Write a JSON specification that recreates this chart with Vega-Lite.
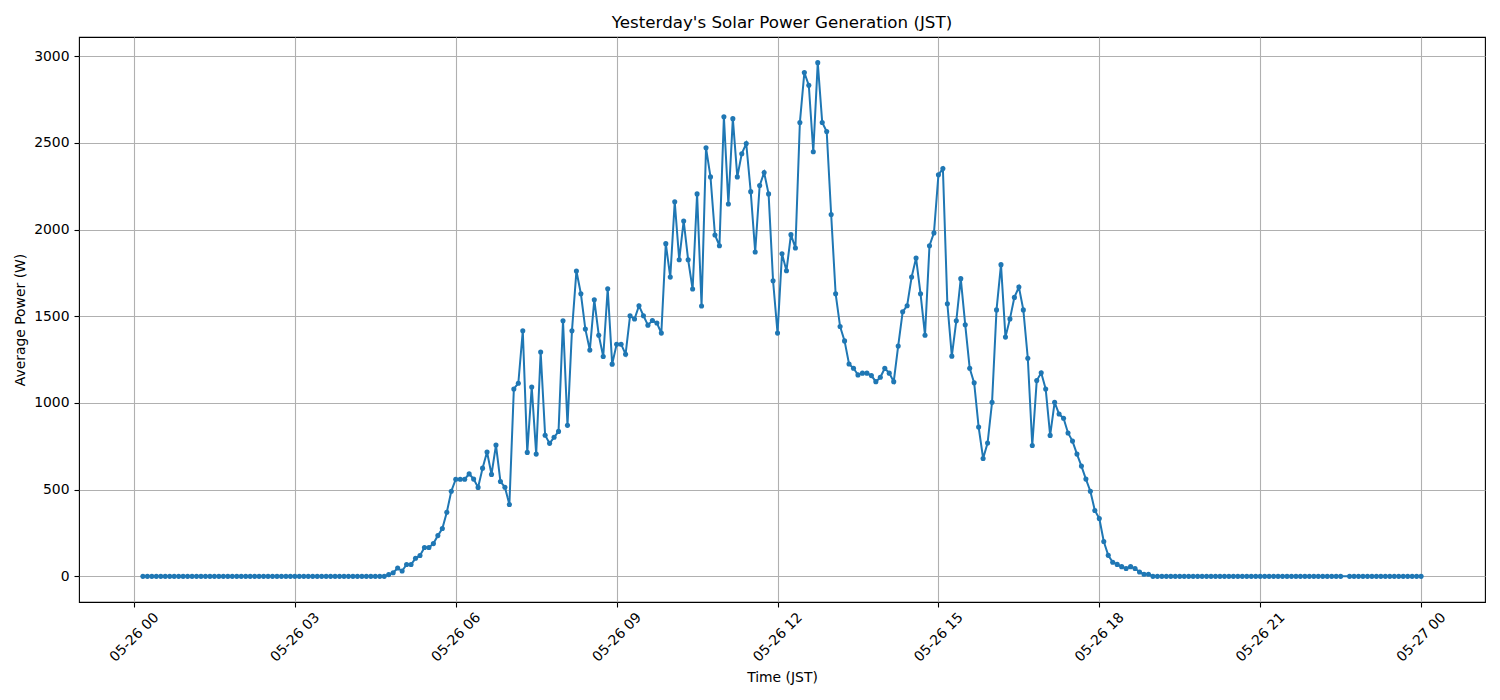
{
  "$schema": "https://vega.github.io/schema/vega-lite/v6.json",
  "width": 1406,
  "height": 565,
  "autosize": {"type": "none"},
  "padding": {"left": 79, "top": 37, "right": 15, "bottom": 98},
  "background": "white",
  "title": {
    "text": "Yesterday's Solar Power Generation (JST)",
    "font": "DejaVu Sans",
    "fontSize": 16.7,
    "fontWeight": "normal",
    "color": "black",
    "anchor": "middle",
    "offset": 5
  },
  "config": {
    "view": {"stroke": "black", "strokeWidth": 1.1},
    "axis": {
      "domain": false,
      "grid": true,
      "gridColor": "#b0b0b0",
      "gridWidth": 1.1,
      "gridOpacity": 1,
      "tickColor": "black",
      "tickWidth": 1.1,
      "tickSize": 5,
      "labelFont": "DejaVu Sans",
      "labelFontSize": 13.9,
      "labelColor": "black",
      "titleFont": "DejaVu Sans",
      "titleFontSize": 13.9,
      "titleFontWeight": "normal",
      "titleColor": "black"
    }
  },
  "data": {
    "values": [
      {"t": "2025-05-26T00:10:00Z", "w": 0}, {"t": "2025-05-26T00:15:00Z", "w": 0}, {"t": "2025-05-26T00:20:00Z", "w": 0}, {"t": "2025-05-26T00:25:00Z", "w": 0},
      {"t": "2025-05-26T00:30:00Z", "w": 0}, {"t": "2025-05-26T00:35:00Z", "w": 0}, {"t": "2025-05-26T00:40:00Z", "w": 0}, {"t": "2025-05-26T00:45:00Z", "w": 0},
      {"t": "2025-05-26T00:50:00Z", "w": 0}, {"t": "2025-05-26T00:55:00Z", "w": 0},
      {"t": "2025-05-26T01:00:00Z", "w": 0}, {"t": "2025-05-26T01:05:00Z", "w": 0}, {"t": "2025-05-26T01:10:00Z", "w": 0}, {"t": "2025-05-26T01:15:00Z", "w": 0},
      {"t": "2025-05-26T01:20:00Z", "w": 0}, {"t": "2025-05-26T01:25:00Z", "w": 0}, {"t": "2025-05-26T01:30:00Z", "w": 0}, {"t": "2025-05-26T01:35:00Z", "w": 0},
      {"t": "2025-05-26T01:40:00Z", "w": 0}, {"t": "2025-05-26T01:45:00Z", "w": 0}, {"t": "2025-05-26T01:50:00Z", "w": 0}, {"t": "2025-05-26T01:55:00Z", "w": 0},
      {"t": "2025-05-26T02:00:00Z", "w": 0}, {"t": "2025-05-26T02:05:00Z", "w": 0}, {"t": "2025-05-26T02:10:00Z", "w": 0}, {"t": "2025-05-26T02:15:00Z", "w": 0},
      {"t": "2025-05-26T02:20:00Z", "w": 0}, {"t": "2025-05-26T02:25:00Z", "w": 0}, {"t": "2025-05-26T02:30:00Z", "w": 0}, {"t": "2025-05-26T02:35:00Z", "w": 0},
      {"t": "2025-05-26T02:40:00Z", "w": 0}, {"t": "2025-05-26T02:45:00Z", "w": 0}, {"t": "2025-05-26T02:50:00Z", "w": 0}, {"t": "2025-05-26T02:55:00Z", "w": 0},
      {"t": "2025-05-26T03:00:00Z", "w": 0}, {"t": "2025-05-26T03:05:00Z", "w": 0}, {"t": "2025-05-26T03:10:00Z", "w": 0}, {"t": "2025-05-26T03:15:00Z", "w": 0},
      {"t": "2025-05-26T03:20:00Z", "w": 0}, {"t": "2025-05-26T03:25:00Z", "w": 0}, {"t": "2025-05-26T03:30:00Z", "w": 0}, {"t": "2025-05-26T03:35:00Z", "w": 0},
      {"t": "2025-05-26T03:40:00Z", "w": 0}, {"t": "2025-05-26T03:45:00Z", "w": 0}, {"t": "2025-05-26T03:50:00Z", "w": 0}, {"t": "2025-05-26T03:55:00Z", "w": 0},
      {"t": "2025-05-26T04:00:00Z", "w": 0}, {"t": "2025-05-26T04:05:00Z", "w": 0}, {"t": "2025-05-26T04:10:00Z", "w": 0}, {"t": "2025-05-26T04:15:00Z", "w": 0},
      {"t": "2025-05-26T04:20:00Z", "w": 0}, {"t": "2025-05-26T04:25:00Z", "w": 0}, {"t": "2025-05-26T04:30:00Z", "w": 0}, {"t": "2025-05-26T04:35:00Z", "w": 0},
      {"t": "2025-05-26T04:40:00Z", "w": 0}, {"t": "2025-05-26T04:45:00Z", "w": 10}, {"t": "2025-05-26T04:50:00Z", "w": 21}, {"t": "2025-05-26T04:55:00Z", "w": 48},
      {"t": "2025-05-26T05:00:00Z", "w": 31}, {"t": "2025-05-26T05:05:00Z", "w": 68}, {"t": "2025-05-26T05:10:00Z", "w": 68}, {"t": "2025-05-26T05:15:00Z", "w": 104},
      {"t": "2025-05-26T05:20:00Z", "w": 120}, {"t": "2025-05-26T05:25:00Z", "w": 166}, {"t": "2025-05-26T05:30:00Z", "w": 166}, {"t": "2025-05-26T05:35:00Z", "w": 189},
      {"t": "2025-05-26T05:40:00Z", "w": 235}, {"t": "2025-05-26T05:45:00Z", "w": 276}, {"t": "2025-05-26T05:50:00Z", "w": 370}, {"t": "2025-05-26T05:55:00Z", "w": 491},
      {"t": "2025-05-26T06:00:00Z", "w": 560}, {"t": "2025-05-26T06:05:00Z", "w": 560}, {"t": "2025-05-26T06:10:00Z", "w": 560}, {"t": "2025-05-26T06:15:00Z", "w": 591},
      {"t": "2025-05-26T06:20:00Z", "w": 561}, {"t": "2025-05-26T06:25:00Z", "w": 513}, {"t": "2025-05-26T06:30:00Z", "w": 624}, {"t": "2025-05-26T06:35:00Z", "w": 717},
      {"t": "2025-05-26T06:40:00Z", "w": 588}, {"t": "2025-05-26T06:45:00Z", "w": 757}, {"t": "2025-05-26T06:50:00Z", "w": 547}, {"t": "2025-05-26T06:55:00Z", "w": 514},
      {"t": "2025-05-26T07:00:00Z", "w": 414}, {"t": "2025-05-26T07:05:00Z", "w": 1081}, {"t": "2025-05-26T07:10:00Z", "w": 1114}, {"t": "2025-05-26T07:15:00Z", "w": 1416},
      {"t": "2025-05-26T07:20:00Z", "w": 715}, {"t": "2025-05-26T07:25:00Z", "w": 1092}, {"t": "2025-05-26T07:30:00Z", "w": 705}, {"t": "2025-05-26T07:35:00Z", "w": 1294},
      {"t": "2025-05-26T07:40:00Z", "w": 814}, {"t": "2025-05-26T07:45:00Z", "w": 767}, {"t": "2025-05-26T07:50:00Z", "w": 802}, {"t": "2025-05-26T07:55:00Z", "w": 836},
      {"t": "2025-05-26T08:00:00Z", "w": 1474}, {"t": "2025-05-26T08:05:00Z", "w": 871}, {"t": "2025-05-26T08:10:00Z", "w": 1416}, {"t": "2025-05-26T08:15:00Z", "w": 1761},
      {"t": "2025-05-26T08:20:00Z", "w": 1630}, {"t": "2025-05-26T08:25:00Z", "w": 1426}, {"t": "2025-05-26T08:30:00Z", "w": 1305}, {"t": "2025-05-26T08:35:00Z", "w": 1595},
      {"t": "2025-05-26T08:40:00Z", "w": 1391}, {"t": "2025-05-26T08:45:00Z", "w": 1268}, {"t": "2025-05-26T08:50:00Z", "w": 1659}, {"t": "2025-05-26T08:55:00Z", "w": 1224},
      {"t": "2025-05-26T09:00:00Z", "w": 1339}, {"t": "2025-05-26T09:05:00Z", "w": 1339}, {"t": "2025-05-26T09:10:00Z", "w": 1281}, {"t": "2025-05-26T09:15:00Z", "w": 1503},
      {"t": "2025-05-26T09:20:00Z", "w": 1484}, {"t": "2025-05-26T09:25:00Z", "w": 1561}, {"t": "2025-05-26T09:30:00Z", "w": 1503}, {"t": "2025-05-26T09:35:00Z", "w": 1449},
      {"t": "2025-05-26T09:40:00Z", "w": 1476}, {"t": "2025-05-26T09:45:00Z", "w": 1461}, {"t": "2025-05-26T09:50:00Z", "w": 1403}, {"t": "2025-05-26T09:55:00Z", "w": 1919},
      {"t": "2025-05-26T10:00:00Z", "w": 1726}, {"t": "2025-05-26T10:05:00Z", "w": 2160}, {"t": "2025-05-26T10:10:00Z", "w": 1826}, {"t": "2025-05-26T10:15:00Z", "w": 2050},
      {"t": "2025-05-26T10:20:00Z", "w": 1826}, {"t": "2025-05-26T10:25:00Z", "w": 1657}, {"t": "2025-05-26T10:30:00Z", "w": 2206}, {"t": "2025-05-26T10:35:00Z", "w": 1559},
      {"t": "2025-05-26T10:40:00Z", "w": 2472}, {"t": "2025-05-26T10:45:00Z", "w": 2304}, {"t": "2025-05-26T10:50:00Z", "w": 1969}, {"t": "2025-05-26T10:55:00Z", "w": 1907},
      {"t": "2025-05-26T11:00:00Z", "w": 2651}, {"t": "2025-05-26T11:05:00Z", "w": 2148}, {"t": "2025-05-26T11:10:00Z", "w": 2640}, {"t": "2025-05-26T11:15:00Z", "w": 2304},
      {"t": "2025-05-26T11:20:00Z", "w": 2438}, {"t": "2025-05-26T11:25:00Z", "w": 2496}, {"t": "2025-05-26T11:30:00Z", "w": 2219}, {"t": "2025-05-26T11:35:00Z", "w": 1871},
      {"t": "2025-05-26T11:40:00Z", "w": 2254}, {"t": "2025-05-26T11:45:00Z", "w": 2329}, {"t": "2025-05-26T11:50:00Z", "w": 2206}, {"t": "2025-05-26T11:55:00Z", "w": 1705},
      {"t": "2025-05-26T12:00:00Z", "w": 1403}, {"t": "2025-05-26T12:05:00Z", "w": 1861}, {"t": "2025-05-26T12:10:00Z", "w": 1763}, {"t": "2025-05-26T12:15:00Z", "w": 1971},
      {"t": "2025-05-26T12:20:00Z", "w": 1894}, {"t": "2025-05-26T12:25:00Z", "w": 2618}, {"t": "2025-05-26T12:30:00Z", "w": 2906}, {"t": "2025-05-26T12:35:00Z", "w": 2832},
      {"t": "2025-05-26T12:40:00Z", "w": 2449}, {"t": "2025-05-26T12:45:00Z", "w": 2963}, {"t": "2025-05-26T12:50:00Z", "w": 2618}, {"t": "2025-05-26T12:55:00Z", "w": 2566},
      {"t": "2025-05-26T13:00:00Z", "w": 2087}, {"t": "2025-05-26T13:05:00Z", "w": 1630}, {"t": "2025-05-26T13:10:00Z", "w": 1441}, {"t": "2025-05-26T13:15:00Z", "w": 1358},
      {"t": "2025-05-26T13:20:00Z", "w": 1225}, {"t": "2025-05-26T13:25:00Z", "w": 1200}, {"t": "2025-05-26T13:30:00Z", "w": 1162}, {"t": "2025-05-26T13:35:00Z", "w": 1172},
      {"t": "2025-05-26T13:40:00Z", "w": 1172}, {"t": "2025-05-26T13:45:00Z", "w": 1158}, {"t": "2025-05-26T13:50:00Z", "w": 1123}, {"t": "2025-05-26T13:55:00Z", "w": 1148},
      {"t": "2025-05-26T14:00:00Z", "w": 1200}, {"t": "2025-05-26T14:05:00Z", "w": 1172}, {"t": "2025-05-26T14:10:00Z", "w": 1123}, {"t": "2025-05-26T14:15:00Z", "w": 1329},
      {"t": "2025-05-26T14:20:00Z", "w": 1526}, {"t": "2025-05-26T14:25:00Z", "w": 1561}, {"t": "2025-05-26T14:30:00Z", "w": 1726}, {"t": "2025-05-26T14:35:00Z", "w": 1836},
      {"t": "2025-05-26T14:40:00Z", "w": 1630}, {"t": "2025-05-26T14:45:00Z", "w": 1391}, {"t": "2025-05-26T14:50:00Z", "w": 1907}, {"t": "2025-05-26T14:55:00Z", "w": 1981},
      {"t": "2025-05-26T15:00:00Z", "w": 2316}, {"t": "2025-05-26T15:05:00Z", "w": 2352}, {"t": "2025-05-26T15:10:00Z", "w": 1572}, {"t": "2025-05-26T15:15:00Z", "w": 1270},
      {"t": "2025-05-26T15:20:00Z", "w": 1474}, {"t": "2025-05-26T15:25:00Z", "w": 1717}, {"t": "2025-05-26T15:30:00Z", "w": 1451}, {"t": "2025-05-26T15:35:00Z", "w": 1200},
      {"t": "2025-05-26T15:40:00Z", "w": 1116}, {"t": "2025-05-26T15:45:00Z", "w": 861}, {"t": "2025-05-26T15:50:00Z", "w": 680}, {"t": "2025-05-26T15:55:00Z", "w": 769},
      {"t": "2025-05-26T16:00:00Z", "w": 1004}, {"t": "2025-05-26T16:05:00Z", "w": 1537}, {"t": "2025-05-26T16:10:00Z", "w": 1798}, {"t": "2025-05-26T16:15:00Z", "w": 1380},
      {"t": "2025-05-26T16:20:00Z", "w": 1485}, {"t": "2025-05-26T16:25:00Z", "w": 1609}, {"t": "2025-05-26T16:30:00Z", "w": 1669}, {"t": "2025-05-26T16:35:00Z", "w": 1537},
      {"t": "2025-05-26T16:40:00Z", "w": 1258}, {"t": "2025-05-26T16:45:00Z", "w": 755}, {"t": "2025-05-26T16:50:00Z", "w": 1129}, {"t": "2025-05-26T16:55:00Z", "w": 1174},
      {"t": "2025-05-26T17:00:00Z", "w": 1081}, {"t": "2025-05-26T17:05:00Z", "w": 813}, {"t": "2025-05-26T17:10:00Z", "w": 1004}, {"t": "2025-05-26T17:15:00Z", "w": 936},
      {"t": "2025-05-26T17:20:00Z", "w": 912}, {"t": "2025-05-26T17:25:00Z", "w": 827}, {"t": "2025-05-26T17:30:00Z", "w": 780}, {"t": "2025-05-26T17:35:00Z", "w": 705},
      {"t": "2025-05-26T17:40:00Z", "w": 636}, {"t": "2025-05-26T17:45:00Z", "w": 561}, {"t": "2025-05-26T17:50:00Z", "w": 491}, {"t": "2025-05-26T17:55:00Z", "w": 380},
      {"t": "2025-05-26T18:00:00Z", "w": 334}, {"t": "2025-05-26T18:05:00Z", "w": 201}, {"t": "2025-05-26T18:10:00Z", "w": 121}, {"t": "2025-05-26T18:15:00Z", "w": 81},
      {"t": "2025-05-26T18:20:00Z", "w": 69}, {"t": "2025-05-26T18:25:00Z", "w": 56}, {"t": "2025-05-26T18:30:00Z", "w": 45}, {"t": "2025-05-26T18:35:00Z", "w": 56},
      {"t": "2025-05-26T18:40:00Z", "w": 45}, {"t": "2025-05-26T18:45:00Z", "w": 25}, {"t": "2025-05-26T18:50:00Z", "w": 12}, {"t": "2025-05-26T18:55:00Z", "w": 12},
      {"t": "2025-05-26T19:00:00Z", "w": 0}, {"t": "2025-05-26T19:05:00Z", "w": 0}, {"t": "2025-05-26T19:10:00Z", "w": 0}, {"t": "2025-05-26T19:15:00Z", "w": 0},
      {"t": "2025-05-26T19:20:00Z", "w": 0}, {"t": "2025-05-26T19:25:00Z", "w": 0}, {"t": "2025-05-26T19:30:00Z", "w": 0}, {"t": "2025-05-26T19:35:00Z", "w": 0},
      {"t": "2025-05-26T19:40:00Z", "w": 0}, {"t": "2025-05-26T19:45:00Z", "w": 0}, {"t": "2025-05-26T19:50:00Z", "w": 0}, {"t": "2025-05-26T19:55:00Z", "w": 0},
      {"t": "2025-05-26T20:00:00Z", "w": 0}, {"t": "2025-05-26T20:05:00Z", "w": 0}, {"t": "2025-05-26T20:10:00Z", "w": 0}, {"t": "2025-05-26T20:15:00Z", "w": 0},
      {"t": "2025-05-26T20:20:00Z", "w": 0}, {"t": "2025-05-26T20:25:00Z", "w": 0}, {"t": "2025-05-26T20:30:00Z", "w": 0}, {"t": "2025-05-26T20:35:00Z", "w": 0},
      {"t": "2025-05-26T20:40:00Z", "w": 0}, {"t": "2025-05-26T20:45:00Z", "w": 0}, {"t": "2025-05-26T20:50:00Z", "w": 0}, {"t": "2025-05-26T20:55:00Z", "w": 0},
      {"t": "2025-05-26T21:00:00Z", "w": 0}, {"t": "2025-05-26T21:05:00Z", "w": 0}, {"t": "2025-05-26T21:10:00Z", "w": 0}, {"t": "2025-05-26T21:15:00Z", "w": 0},
      {"t": "2025-05-26T21:20:00Z", "w": 0}, {"t": "2025-05-26T21:25:00Z", "w": 0}, {"t": "2025-05-26T21:30:00Z", "w": 0}, {"t": "2025-05-26T21:35:00Z", "w": 0},
      {"t": "2025-05-26T21:40:00Z", "w": 0}, {"t": "2025-05-26T21:45:00Z", "w": 0}, {"t": "2025-05-26T21:50:00Z", "w": 0}, {"t": "2025-05-26T21:55:00Z", "w": 0},
      {"t": "2025-05-26T22:00:00Z", "w": 0}, {"t": "2025-05-26T22:05:00Z", "w": 0}, {"t": "2025-05-26T22:10:00Z", "w": 0}, {"t": "2025-05-26T22:15:00Z", "w": 0},
      {"t": "2025-05-26T22:20:00Z", "w": 0}, {"t": "2025-05-26T22:25:00Z", "w": 0}, {"t": "2025-05-26T22:30:00Z", "w": 0}, {"t": "2025-05-26T22:40:00Z", "w": 0},
      {"t": "2025-05-26T22:45:00Z", "w": 0}, {"t": "2025-05-26T22:50:00Z", "w": 0}, {"t": "2025-05-26T22:55:00Z", "w": 0},
      {"t": "2025-05-26T23:00:00Z", "w": 0}, {"t": "2025-05-26T23:05:00Z", "w": 0}, {"t": "2025-05-26T23:10:00Z", "w": 0}, {"t": "2025-05-26T23:15:00Z", "w": 0},
      {"t": "2025-05-26T23:20:00Z", "w": 0}, {"t": "2025-05-26T23:25:00Z", "w": 0}, {"t": "2025-05-26T23:30:00Z", "w": 0}, {"t": "2025-05-26T23:35:00Z", "w": 0},
      {"t": "2025-05-26T23:40:00Z", "w": 0}, {"t": "2025-05-26T23:45:00Z", "w": 0}, {"t": "2025-05-26T23:50:00Z", "w": 0}, {"t": "2025-05-26T23:55:00Z", "w": 0},
      {"t": "2025-05-27T00:00:00Z", "w": 0}
    ]
  },
  "mark": {
    "type": "line",
    "color": "#1f77b4",
    "strokeWidth": 2,
    "point": {"filled": true, "size": 26, "color": "#1f77b4"}
  },
  "encoding": {
    "x": {
      "field": "t",
      "type": "temporal",
      "title": "Time (JST)",
      "scale": {"type": "utc", "domain": [1748213910000, 1748308290000]},
      "axis": {
        "values": [1748217600000, 1748228400000, 1748239200000, 1748250000000, 1748260800000, 1748271600000, 1748282400000, 1748293200000, 1748304000000],
        "labelExpr": "utcFormat(datum.value, '%m-%d %H')",
        "labelAngle": -45,
        "labelAlign": "center",
        "labelBaseline": "middle",
        "labelPadding": 30,
        "labelOverlap": false,
        "titlePadding": 7
      }
    },
    "y": {
      "field": "w",
      "type": "quantitative",
      "title": "Average Power (W)",
      "scale": {"domain": [-148, 3111], "nice": false, "zero": false},
      "axis": {
        "values": [0, 500, 1000, 1500, 2000, 2500, 3000],
        "format": "d",
        "labelPadding": 5,
        "titlePadding": 6
      }
    }
  }
}
